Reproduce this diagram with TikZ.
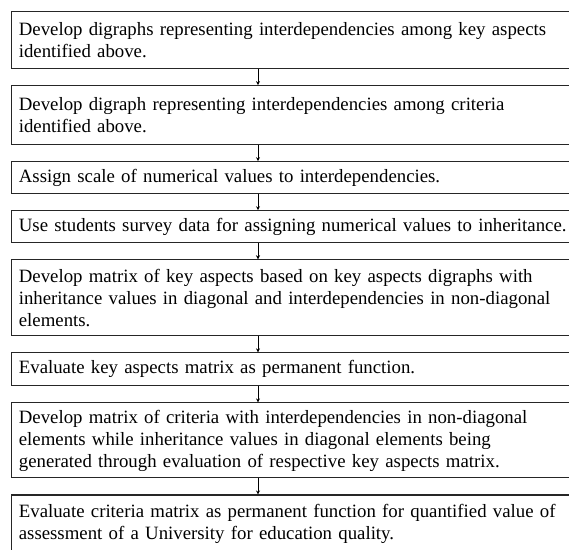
\documentclass[tikz,border=0pt]{standalone}
\usepackage{fontspec}
\setmainfont{Liberation Serif}
\usetikzlibrary{arrows.meta, positioning}

\begin{document}
\begin{tikzpicture}[
		x=0.75pt, y=0.75pt,
		node distance= {12pt},
		line width=0.8pt,
		stepbox/.style= {
				draw=black!85,
				text width=416pt,
				align=left,
				inner xsep=5.5pt,
				inner ysep=3pt,
				font=\fontsize{14.1}{16.5}\selectfont,
				execute at begin node={\hyphenpenalty=10000 }
			},
		myarrow/.style= {
				line width=0.6pt,
				-{Stealth[length=3pt,width=3pt]}
			}
	]
	\clip (0,0) rectangle (569,-550);

	\node[stepbox, minimum height=42.75pt, anchor=north west] (s1) at (11,-11) {Develop digraphs representing interdependencies among key aspects identified above.};
	\node[stepbox, minimum height=44.25pt] (s2) [below = of s1] {Develop digraph representing interdependencies among criteria identified above.};
	\node[stepbox, minimum height=24pt] (s3) [below = of s2] {Assign scale of numerical values to interdependencies.};
	\node[stepbox, minimum height=24pt] (s4) [below = of s3] {Use students survey data for assigning numerical values to inheritance.};
	\node[stepbox, minimum height=57pt] (s5) [below = of s4] {Develop matrix of key aspects based on key aspects digraphs with inheritance values in diagonal and interdependencies in non-diagonal elements.};
	\node[stepbox, minimum height=24.75pt] (s6) [below = of s5] {Evaluate key aspects matrix as permanent function.};
	\node[stepbox, minimum height=56.25pt] (s7) [below = of s6] {Develop matrix of criteria with interdependencies in non-diagonal elements while inheritance values in diagonal elements being\\ generated through evaluation of respective key aspects matrix.};
	\node[stepbox, minimum height=42.75pt] (s8) [below = of s7] {Evaluate criteria matrix as permanent function for quantified value of assessment of a University for education quality.};

	\coordinate (ax) at (258,0);
	\foreach \a/\b in {s1/s2, s2/s3, s3/s4, s4/s5, s5/s6, s6/s7, s7/s8}
		\draw[myarrow] (\a.south -| ax) -- (\b.north -| ax);
\end{tikzpicture}
\end{document}
